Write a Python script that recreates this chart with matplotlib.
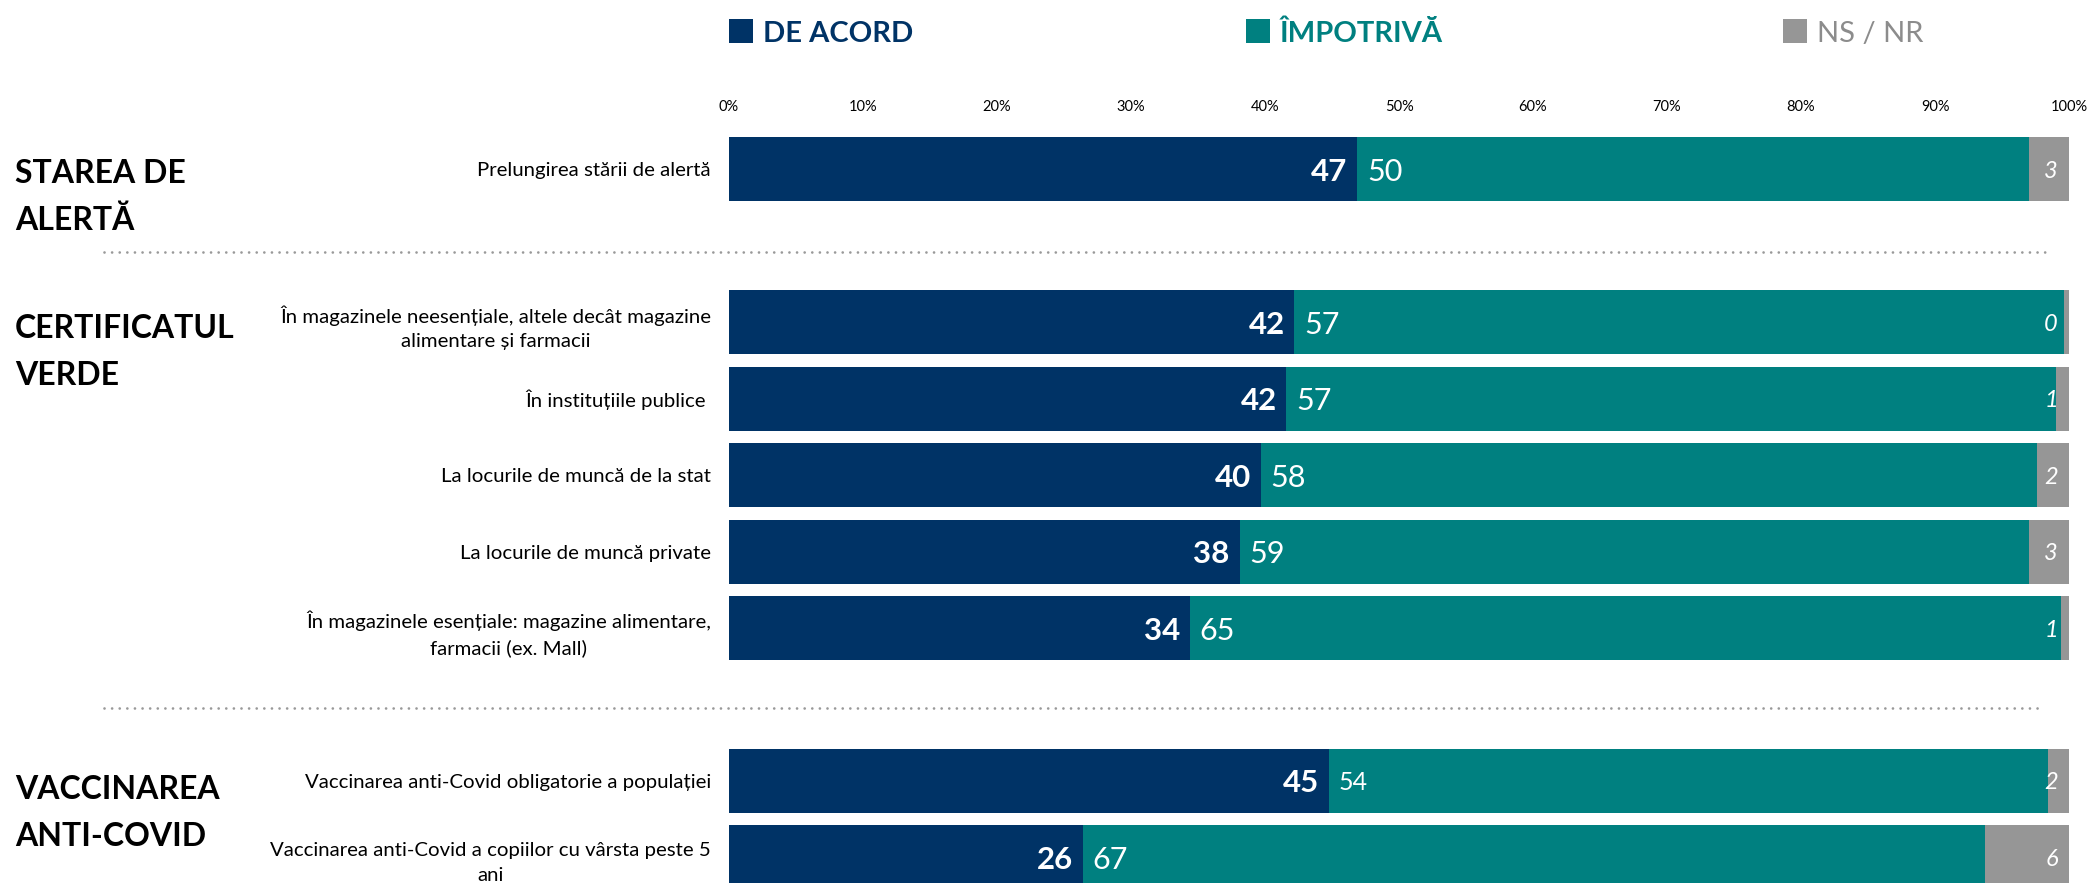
import matplotlib
matplotlib.use("Agg")
import matplotlib.pyplot as plt
from matplotlib.patches import Rectangle
from matplotlib.transforms import blended_transform_factory

plt.rcParams['font.family'] = ['Lato', 'DejaVu Sans']

# ── data ─────────────────────────────────────────────────────────────────────
row_labels = [
    "Prelungirea stării de alertă",
    "În magazinele neesențiale, altele decât magazine\nalimentare și farmacii",
    "În instituțiile publice ",
    "La locurile de muncă de la stat",
    "La locurile de muncă private",
    "În magazinele esențiale: magazine alimentare,\nfarmacii (ex. Mall)",
    "Vaccinarea anti-Covid obligatorie a populației",
    "Vaccinarea anti-Covid a copiilor cu vârsta peste 5\nani",
]
de_acord = [46.9, 42.2, 41.6, 39.7, 38.1, 34.4, 44.8, 26.4]
impotriva = [50.1, 57.4, 57.4, 57.9, 58.9, 65.0, 53.6, 67.3]
ns_nr = [3.0, 0.4, 1.0, 2.4, 3.0, 0.6, 1.6, 6.3]

groups = ["STAREA DE\nALERTĂ", "CERTIFICATUL\nVERDE", "VACCINAREA\nANTI-COVID"]
series_names = ["DE ACORD", "ÎMPOTRIVĂ", "NS / NR"]

NAVY = "#003366"
TEAL = "#008080"
GRAY = "#969696"

# ── layout ───────────────────────────────────────────────────────────────────
W, H = 2091, 883
row_pos = [0, 2, 3, 4, 5, 6, 8, 9]          # slots, gaps between groups
group_y = [0.36, 2.39, 8.42]
sep_y = [1.08, 7.05]
teal_size = [22, 22, 22, 22, 22, 22, 18, 22]

fig = plt.figure(figsize=(W / 100, H / 100), dpi=100)
ax = fig.add_axes([729 / W, 0, (2069 - 729) / W, (H - 125) / H])

ax.barh(row_pos, de_acord, height=0.835, color=NAVY)
left2 = [a for a in de_acord]
ax.barh(row_pos, impotriva, left=left2, height=0.835, color=TEAL)
left3 = [a + b for a, b in zip(de_acord, impotriva)]
ax.barh(row_pos, ns_nr, left=left3, height=0.835, color=GRAY)

ax.set_xlim(0, 100)
ax.set_ylim(9.335, -0.581)

# value labels
for y, a, b, c, ts in zip(row_pos, de_acord, impotriva, ns_nr, teal_size):
    ax.annotate(f"{a:.0f}", xy=(a, y), xytext=(-7, 0), textcoords='offset points',
                ha='right', va='center_baseline', color='white',
                fontsize=22.5, fontweight='bold')
    ax.annotate(f"{b:.0f}", xy=(a, y), xytext=(7, 0), textcoords='offset points',
                ha='left', va='center_baseline', color='white', fontsize=ts)
    ax.annotate(f"{c:.0f}", xy=(100, y), xytext=(-8, 0), textcoords='offset points',
                ha='right', va='center_baseline', color='white',
                fontsize=17, fontstyle='italic')

# axes: ticks on top, row labels on left
ax.xaxis.tick_top()
ax.set_xticks(range(0, 101, 10))
ax.set_xticklabels([f"{t}%" for t in range(0, 101, 10)], fontsize=10.5)
ax.tick_params(axis='x', length=0, pad=8)
ax.set_yticks(row_pos)
ax.set_yticklabels(row_labels, fontsize=14.7)
ax.tick_params(axis='y', length=0, pad=13)
for lab in ax.get_yticklabels():
    lab.set_multialignment('center')
    lab.set_linespacing(1.55)
for s in ax.spines.values():
    s.set_visible(False)

# group titles and dotted separators
blend = blended_transform_factory(fig.transFigure, ax.transData)
for g, gy in zip(groups, group_y):
    ax.text(15 / W, gy, g, transform=blend, ha='left', va='center',
            fontsize=23, fontweight='bold', color='black', linespacing=1.72)
for sy, x1 in zip(sep_y, [2050, 2042]):
    ax.plot([104 / W, x1 / W], [sy, sy], transform=blend, clip_on=False,
            color="#999999", lw=1.95, linestyle=(0, (0.01, 2.8)),
            dash_capstyle='round')

# legend drawn by hand across the top
leg_x = [729, 1246, 1783]
leg_colors = [NAVY, TEAL, GRAY]
leg_text_colors = [NAVY, TEAL, "#8c8c8c"]
leg_weights = ['bold', 'bold', 'normal']
for x, name, c, tc, wgt in zip(leg_x, series_names, leg_colors, leg_text_colors, leg_weights):
    fig.add_artist(Rectangle((x / W, 1 - 43 / H), 24 / W, 24 / H,
                             transform=fig.transFigure, color=c, lw=0))
    fig.text((x + 34) / W, 1 - 42 / H, name, ha='left', va='baseline',
             fontsize=21, fontweight=wgt, color=tc)

fig.savefig("out.png", dpi=100)
